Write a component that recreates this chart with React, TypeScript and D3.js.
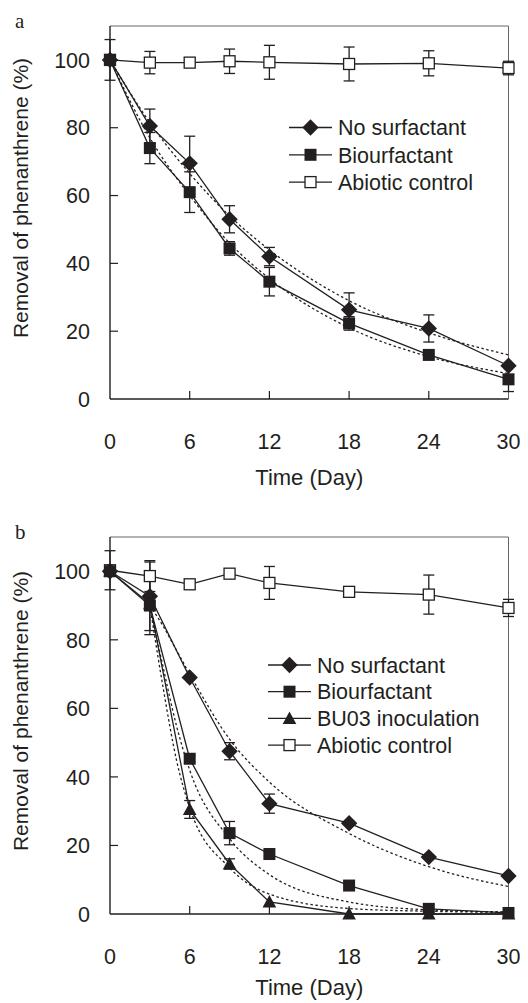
import React from 'react';
import * as d3 from 'd3';

// sampling days
const days = [0, 3, 6, 9, 12, 18, 24, 30];

// panel a
const noSurfA = [100, 80.5, 69.5, 53, 42, 26.3, 20.8, 9.8];
const noSurfAErr = [0, 5, 8, 4, 2.7, 5, 4, 0];
const bioA = [100, 74, 61, 44.4, 34.6, 22.3, 13, 5.8];
const bioAErr = [0, 4.6, 6, 2, 4.2, 2, 0.5, 3.6];
const abioA = [100, 99.2, 99.2, 99.6, 99.3, 98.8, 99, 97.6];
const abioAErr = [6, 3.3, 1, 3.6, 5, 5, 3.7, 2];

// dotted fitted curves, panel a
const fitDaysA = [0, 3, 6, 9, 12, 18, 24, 30];
const fitNoSurfA = [100, 81.5, 66.5, 54, 44, 29, 19.5, 13];
const fitBioA = [100, 77, 60, 46, 35.5, 21, 12.5, 7.5];

// panel b
const noSurfB = [100, 92.7, 69, 47.5, 32.2, 26.5, 16.6, 11.1];
const noSurfBErr = [0, 10, 0.5, 2.5, 2.8, 0.5, 0.5, 0.5];
const bioB = [100, 90, 45.3, 23.6, 17.5, 8.3, 1.5, 0.3];
const bioBErr = [0, 8.5, 1, 3.4, 0.5, 0, 0, 0];
const bu03B = [100, 90.5, 30.5, 14.6, 3.5, 0, 0, 0];
const bu03BErr = [0, 0, 2.6, 1.5, 0, 0, 0, 0];
const abioB = [100.3, 98.6, 96.2, 99.3, 96.6, 94, 93.2, 89.3];
const abioBErr = [5.7, 4.5, 1, 0, 4.8, 1, 5.7, 2.5];

// dotted fitted curves, panel b
const fitDaysB = [3, 4, 5, 6, 9, 12, 18, 24, 30];
const fitNoSurfB = [90, 84, 77, 70, 51, 38.5, 23.5, 13.8, 8];
const fitBioB = [90, 72, 55, 42, 22, 11.5, 3.5, 1.2, 0.6];
const fitBu03B = [90, 66, 45, 31, 13.5, 5.8, 1.6, 0.8, 0.5];

const xTicks = [0, 6, 12, 18, 24, 30];
const yTicks = [0, 20, 40, 60, 80, 100];

const FONT = '"Liberation Sans", Arial, sans-serif';
const INK = '#231f20';

type Shape = 'diamond' | 'square' | 'open' | 'triangle';

function Marker({ shape, x, y }: { shape: Shape; x: number; y: number }) {
  if (shape === 'diamond') {
    const r = 8.2;
    return <path d={`M${x},${y - r}L${x + r},${y}L${x},${y + r}L${x - r},${y}Z`} fill={INK} />;
  }
  if (shape === 'square') {
    return <rect x={x - 6} y={y - 6} width={12} height={12} fill={INK} />;
  }
  if (shape === 'open') {
    return <rect x={x - 5.5} y={y - 5.5} width={11} height={11} fill="#fff" stroke={INK} strokeWidth={1.3} />;
  }
  return <path d={`M${x},${y - 7}L${x + 6.8},${y + 5.5}L${x - 6.8},${y + 5.5}Z`} fill={INK} />;
}

type Series = { values: number[]; err: number[]; shape: Shape };
type Fit = { days: number[]; values: number[] };

function Panel(props: {
  top: number;
  bottom: number;
  letter: string;
  series: Series[];
  fits: Fit[];
  legend: { label: string; shape: Shape }[];
  legendX: number;
  legendY: number;
  legendStep: number;
  titleY: number;
  ylabelY: number;
}) {
  const left = 110;
  const right = 508.5;
  const x = d3.scaleLinear().domain([0, 30]).range([left, right]);
  const y = d3.scaleLinear().domain([0, 110]).range([props.bottom, props.top]);
  const line = d3.line<number>().x((d, i) => x(days[i])).y(d => y(d));
  const cap = 5.5;

  return (
    <g>
      <text x={15} y={props.top + 2} fontFamily="'Liberation Serif', serif" fontSize={21} fill={INK}>
        {props.letter}
      </text>

      {/* frame */}
      <path d={`M${left},${props.top}H${right}V${props.bottom}`} fill="none" stroke="#666" strokeWidth={1} />
      <line x1={left} x2={left} y1={props.top} y2={props.bottom} stroke={INK} strokeWidth={1.4} />
      <line x1={left} x2={right} y1={props.bottom} y2={props.bottom} stroke={INK} strokeWidth={1.4} />

      {yTicks.map(t => (
        <g key={'y' + t}>
          {t > 0 && <line x1={left} x2={left + 8} y1={y(t)} y2={y(t)} stroke={INK} strokeWidth={1.2} />}
          <text x={90} y={y(t)} dy="0.36em" textAnchor="end" fontFamily={FONT} fontSize={21.5} fill={INK}>
            {t}
          </text>
        </g>
      ))}
      {xTicks.map(t => (
        <g key={'x' + t}>
          {t > 0 && t < 30 && (
            <line x1={x(t)} x2={x(t)} y1={props.bottom} y2={props.bottom - 8} stroke={INK} strokeWidth={1.2} />
          )}
          <text x={x(t)} y={props.bottom + 50} textAnchor="middle" fontFamily={FONT} fontSize={21.5} fill={INK}>
            {t}
          </text>
        </g>
      ))}
      <text x={x(15)} y={props.titleY} textAnchor="middle" fontFamily={FONT} fontSize={22} fill={INK}>
        Time (Day)
      </text>
      <text
        transform={`translate(28,${props.ylabelY}) rotate(-90)`}
        textAnchor="middle"
        fontFamily={FONT}
        fontSize={21}
        fill={INK}
      >
        Removal of phenanthrene (%)
      </text>

      {/* fitted curves */}
      {props.fits.map((f, k) => (
        <path
          key={'f' + k}
          d={
            d3
              .line<number>()
              .x((d, i) => x(f.days[i]))
              .y(d => y(d))
              .curve(d3.curveMonotoneX)(f.values) || ''
          }
          fill="none"
          stroke={INK}
          strokeWidth={1.3}
          strokeDasharray="2.5,2.5"
        />
      ))}

      {props.series.map((s, k) => (
        <g key={'s' + k}>
          <path d={line(s.values) || ''} fill="none" stroke={INK} strokeWidth={1.3} />
          {s.values.map((v, i) =>
            s.err[i] > 0 ? (
              <g key={i} stroke={INK} strokeWidth={1.3}>
                <line x1={x(days[i])} x2={x(days[i])} y1={y(v - s.err[i])} y2={y(v + s.err[i])} />
                <line x1={x(days[i]) - cap} x2={x(days[i]) + cap} y1={y(v - s.err[i])} y2={y(v - s.err[i])} />
                <line x1={x(days[i]) - cap} x2={x(days[i]) + cap} y1={y(v + s.err[i])} y2={y(v + s.err[i])} />
              </g>
            ) : null
          )}
        </g>
      ))}
      {props.series.map((s, k) => (
        <g key={'m' + k}>
          {s.values.map((v, i) => (
            <Marker key={i} shape={s.shape} x={x(days[i])} y={y(v)} />
          ))}
        </g>
      ))}

      {/* legend */}
      {props.legend.map((l, i) => {
        const ly = props.legendY + i * props.legendStep;
        return (
          <g key={'l' + i}>
            <line x1={props.legendX} x2={props.legendX + 43} y1={ly} y2={ly} stroke={INK} strokeWidth={1.3} />
            <Marker shape={l.shape} x={props.legendX + 21.5} y={ly} />
            <text x={props.legendX + 49} y={ly} dy="0.36em" fontFamily={FONT} fontSize={21.5} fill={INK}>
              {l.label}
            </text>
          </g>
        );
      })}
    </g>
  );
}

export default function App() {
  return (
    <svg width={528} height={1003} style={{ position: 'absolute', left: 0, top: 0, background: '#fff' }}>
      <rect width={528} height={1003} fill="#fff" />
      <Panel
        top={26}
        bottom={399}
        letter="a"
        series={[
          { values: abioA, err: abioAErr, shape: 'open' },
          { values: noSurfA, err: noSurfAErr, shape: 'diamond' },
          { values: bioA, err: bioAErr, shape: 'square' },
        ]}
        fits={[
          { days: fitDaysA, values: fitNoSurfA },
          { days: fitDaysA, values: fitBioA },
        ]}
        legend={[
          { label: 'No surfactant', shape: 'diamond' },
          { label: 'Biourfactant', shape: 'square' },
          { label: 'Abiotic control', shape: 'open' },
        ]}
        legendX={289}
        legendY={127.5}
        legendStep={27.3}
        titleY={485}
        ylabelY={198}
      />
      <Panel
        top={537}
        bottom={914}
        letter="b"
        series={[
          { values: abioB, err: abioBErr, shape: 'open' },
          { values: noSurfB, err: noSurfBErr, shape: 'diamond' },
          { values: bioB, err: bioBErr, shape: 'square' },
          { values: bu03B, err: bu03BErr, shape: 'triangle' },
        ]}
        fits={[
          { days: fitDaysB, values: fitNoSurfB },
          { days: fitDaysB, values: fitBioB },
          { days: fitDaysB, values: fitBu03B },
        ]}
        legend={[
          { label: 'No surfactant', shape: 'diamond' },
          { label: 'Biourfactant', shape: 'square' },
          { label: 'BU03 inoculation', shape: 'triangle' },
          { label: 'Abiotic control', shape: 'open' },
        ]}
        legendX={268}
        legendY={665}
        legendStep={26.7}
        titleY={995}
        ylabelY={711}
      />
    </svg>
  );
}
